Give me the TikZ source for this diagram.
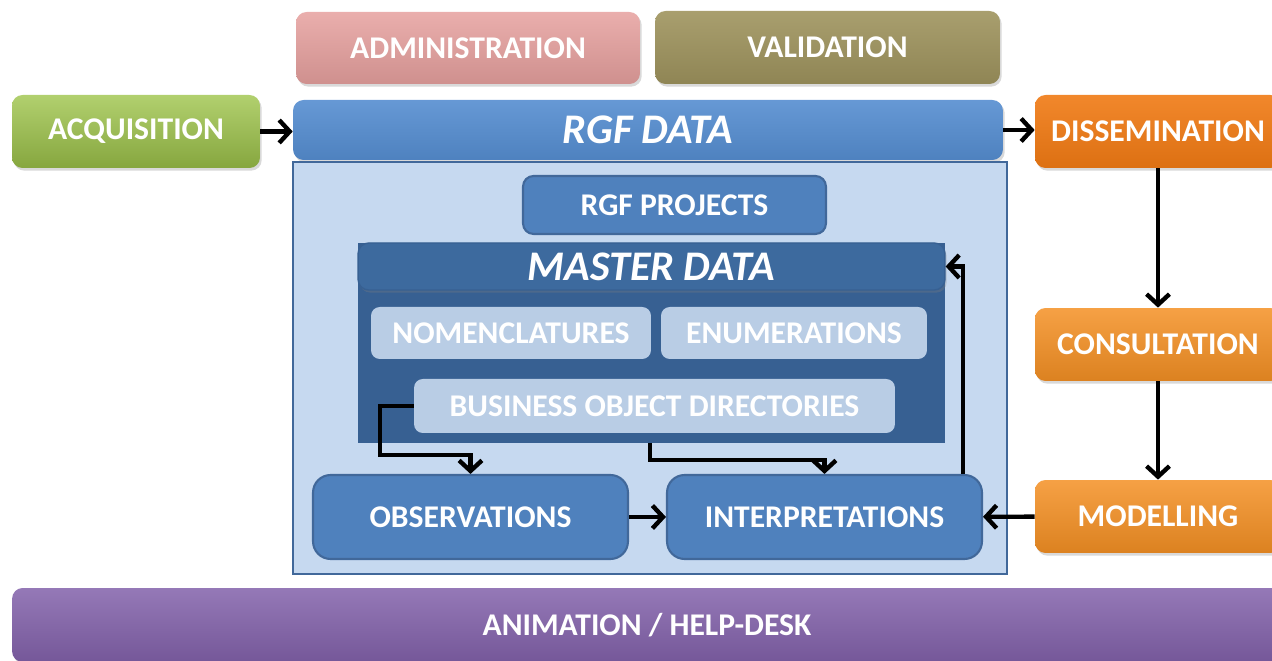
\documentclass[tikz,border=0pt]{standalone}
\usepackage{fontspec}
\setmainfont{Carlito}
\usetikzlibrary{arrows.meta,shadows}
\definecolor{admpink}{RGB}{230,160,158}
\definecolor{valolive}{RGB}{159,148,94}
\definecolor{acqgreen}{RGB}{158,196,74}
\definecolor{rgfblue}{RGB}{85,141,208}
\definecolor{dissorange}{RGB}{240,122,20}
\definecolor{consorange}{RGB}{244,144,36}
\definecolor{animpurple}{RGB}{130,97,170}
\definecolor{contfill}{RGB}{198,217,240}
\definecolor{contline}{RGB}{65,104,154}
\definecolor{projblue}{RGB}{79,129,189}
\definecolor{masterbody}{RGB}{55,96,146}
\definecolor{masterhead}{RGB}{61,106,158}
\definecolor{lightbox}{RGB}{185,205,229}
\begin{document}
\begin{tikzpicture}[x=0.02cm,y=-0.02cm,
    box/.style={rounded corners=6pt,inner sep=0pt,text=white,
      font=\fontsize{18}{21}\selectfont\bfseries,
      drop shadow={opacity=0.3,shadow xshift=1pt,shadow yshift=-1.5pt}},
    bluebox/.style={rounded corners=6pt,inner sep=0pt,text=white,
      font=\fontsize{18}{21}\selectfont\bfseries,
      fill=projblue,draw=contline,line width=1.2pt},
    innerbox/.style={rounded corners=5pt,inner sep=0pt,text=white,
      font=\fontsize{18}{21}\selectfont\bfseries,fill=lightbox},
    arr/.style={line width=2.5pt,-{Straight Barb[length=6pt,width=13pt]}}]
    \useasboundingbox (0,0) rectangle (1272,661);
    \clip (0,0) rectangle (1272,661);
    % top row
    \node[box,top color=admpink!85!white,bottom color=admpink!90!black,minimum width=6.88cm,minimum height=1.44cm] (adm) at (468,48) {ADMINISTRATION};
    \node[box,top color=valolive!90!white,bottom color=valolive!90!black,minimum width=6.9cm,minimum height=1.46cm] (val) at (827.5,47.5) {VALIDATION};
    \node[box,top color=acqgreen!80!white,bottom color=acqgreen!85!black,minimum width=4.96cm,minimum height=1.46cm] (acq) at (136,131.5) {ACQUISITION};
    \node[box,top color=rgfblue!90!white,bottom color=rgfblue!92!black,minimum width=14.2cm,minimum height=1.2cm,
      font=\fontsize{24}{28}\selectfont\bfseries\itshape] (rgf) at (648,130) {RGF DATA};
    \node[box,top color=dissorange!90!white,bottom color=dissorange!92!black,minimum width=4.92cm,minimum height=1.46cm] (diss) at (1158,131.5) {DISSEMINATION};
    % right column
    \node[box,top color=consorange!85!white,bottom color=consorange!90!black,minimum width=4.92cm,minimum height=1.46cm] (cons) at (1158,344.5) {CONSULTATION};
    \node[box,top color=consorange!85!white,bottom color=consorange!90!black,minimum width=4.92cm,minimum height=1.46cm] (model) at (1158,516.5) {MODELLING};
    % RGF data content
    \node[fill=contfill,draw=contline,line width=1.6pt,minimum width=14.28cm,minimum height=8.24cm] (cont) at (650,368) {};
    \node[bluebox,minimum width=6.06cm,minimum height=1.16cm] (proj) at (674.5,205) {RGF PROJECTS};
    \node[fill=masterbody,inner sep=0pt,minimum width=11.74cm,minimum height=4cm] (mbody) at (651.5,343) {};
    \node[box,fill=masterhead,draw=masterbody,line width=0.8pt,minimum width=11.74cm,minimum height=0.94cm,
      font=\fontsize{24}{28}\selectfont\bfseries\itshape] (mhead) at (651.5,266.5) {MASTER DATA};
    \node[innerbox,minimum width=5.6cm,minimum height=1.04cm] (nom) at (511,333) {NOMENCLATURES};
    \node[innerbox,minimum width=5.32cm,minimum height=1.04cm] (enum) at (794,333) {ENUMERATIONS};
    \node[innerbox,minimum width=9.62cm,minimum height=1.08cm] (bod) at (654.5,406) {BUSINESS OBJECT DIRECTORIES};
    \node[bluebox,rounded corners=10pt,minimum width=6.3cm,minimum height=1.68cm] (obs) at (470.5,517) {OBSERVATIONS};
    \node[bluebox,rounded corners=10pt,minimum width=6.3cm,minimum height=1.68cm] (interp) at (824.5,517) {INTERPRETATIONS};
    % bottom bar
    \node[box,top color=animpurple!85!white,bottom color=animpurple!90!black,minimum width=25.4cm,minimum height=1.48cm] (anim) at (647,625) {ANIMATION / HELP-DESK};
    % connectors
    \coordinate (k1) at (380,455);
    \coordinate (k2) at (650,460);
    \draw[arr] (acq.east) -- (acq.east -| rgf.west);
    \draw[arr] (rgf.east) -- (rgf.east -| diss.west);
    \draw[arr] (diss) -- (cons);
    \draw[arr] (cons) -- (model);
    \draw[arr] (model) -- (interp);
    \draw[arr] (obs) -- (interp);
    \draw[arr] ([xshift=-0.4cm]interp.north east) |- (mhead.east);
    \draw[arr] (bod.west) -| (k1) -| (obs.north);
    \draw[arr] (mbody.south -| k2) -- (k2) -| (interp.north);
\end{tikzpicture}
\end{document}
